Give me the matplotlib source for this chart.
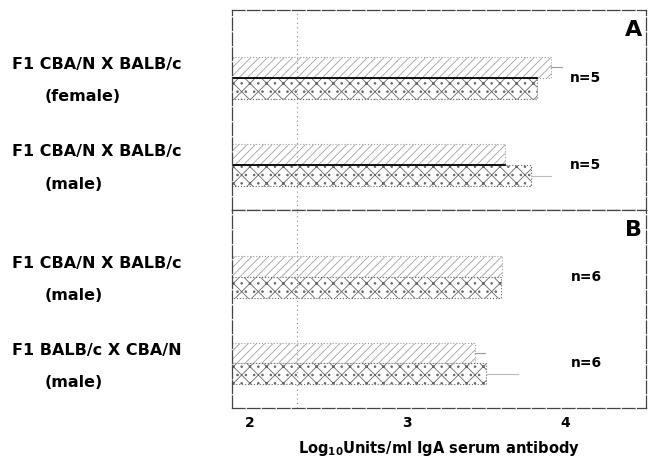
import matplotlib.pyplot as plt
import numpy as np

# Log10 Units/ml IgA serum antibody
groups_A = ["F1 CBA/N X BALB/c\n(female)", "F1 CBA/N X BALB/c\n(male)"]
groups_B = ["F1 CBA/N X BALB/c\n(male)", "F1 BALB/c X CBA/N\n(male)"]
upper_A = [3.91, 3.62]   # hatched bar ///
lower_A = [3.82, 3.78]   # dotted cross hatch bar
upper_B = [3.60, 3.43]
lower_B = [3.59, 3.50]
err_up_A = [0.07, 0.0]
err_lo_A = [0.0, 0.13]
err_up_B = [0.0, 0.06]
err_lo_B = [0.0, 0.20]
n_A = [5, 5]
n_B = [6, 6]
panel_names = ["A", "B"]
xticks = [2, 3, 4]
cutoff = 2.3

W, H = 648, 467
plt.rcParams['font.family'] = ['DejaVu Sans']
plt.rcParams['hatch.linewidth'] = 0.6
fig = plt.figure(figsize=(W/100, H/100), dpi=100)

x0 = 1.89
x1 = 4.51
pos = [1.35, 3.1]
h = 0.42

def panel(rect, up, lo, eu, el, nn, name, labels, bottom, midline):
    ax = fig.add_axes(rect)
    ax.set_xlim(x0, x1)
    ax.set_ylim(4, 0)
    for i in range(len(up)):
        ax.barh(pos[i] - h/2, up[i] - x0, left=x0, height=h, color='white',
                edgecolor='#a0a0a0', hatch='////', linewidth=0.8, linestyle=':')
        ax.barh(pos[i] + h/2, lo[i] - x0, left=x0, height=h, color='white',
                edgecolor='#666666', hatch='xx..', linewidth=0.8, linestyle=':')
        if eu[i] > 0:
            ax.plot([up[i], up[i] + eu[i]], [pos[i] - h/2]*2, color='#999999', lw=0.8)
        if el[i] > 0:
            ax.plot([lo[i], lo[i] + el[i]], [pos[i] + h/2]*2, color='#bbbbbb', lw=0.8)
        if midline:
            ax.plot([x0, min(up[i], lo[i])], [pos[i]]*2, color='black', lw=1.3)
        ax.text(4.13, pos[i], f"n={nn[i]}", ha='center', va='center',
                fontsize=10, fontweight='bold')
        # row labels on the left
        first, second = labels[i].split("\n")
        ax.text(-0.531, pos[i] - 0.27, first, transform=ax.get_yaxis_transform(),
                ha='left', va='center', fontsize=11.5, fontweight='bold')
        ax.text(-0.452, pos[i] + 0.38, second, transform=ax.get_yaxis_transform(),
                ha='left', va='center', fontsize=11.5, fontweight='bold')
    ax.axvline(cutoff, color='#888888', lw=0.8, ls=(0, (1, 3)))
    ax.text(4.43, 0.4, name, ha='center', va='center', fontsize=16, fontweight='bold')
    for s in ax.spines.values():
        s.set_linestyle((0, (10, 2)))
        s.set_color('#444444')
        s.set_linewidth(0.9)
    ax.set_yticks([])
    if bottom:
        ax.set_xticks(xticks)
        ax.set_xticklabels([str(t) for t in xticks], fontsize=10, fontweight='bold')
        ax.tick_params(axis='x', length=0, pad=6)
        ax.set_xlabel(r"Log$_{\mathbf{10}}$Units/ml IgA serum antibody",
                      fontsize=10.5, fontweight='bold', labelpad=6)
    else:
        ax.set_xticks([])
    return ax

axA = panel([232/W, 1 - 210/H, 414/W, 200/H], upper_A, lower_A, err_up_A, err_lo_A,
            n_A, panel_names[0], groups_A, False, True)
axB = panel([232/W, 1 - 408/H, 414/W, 198/H], upper_B, lower_B, err_up_B, err_lo_B,
            n_B, panel_names[1], groups_B, True, False)

fig.savefig("out.png", dpi=100)
